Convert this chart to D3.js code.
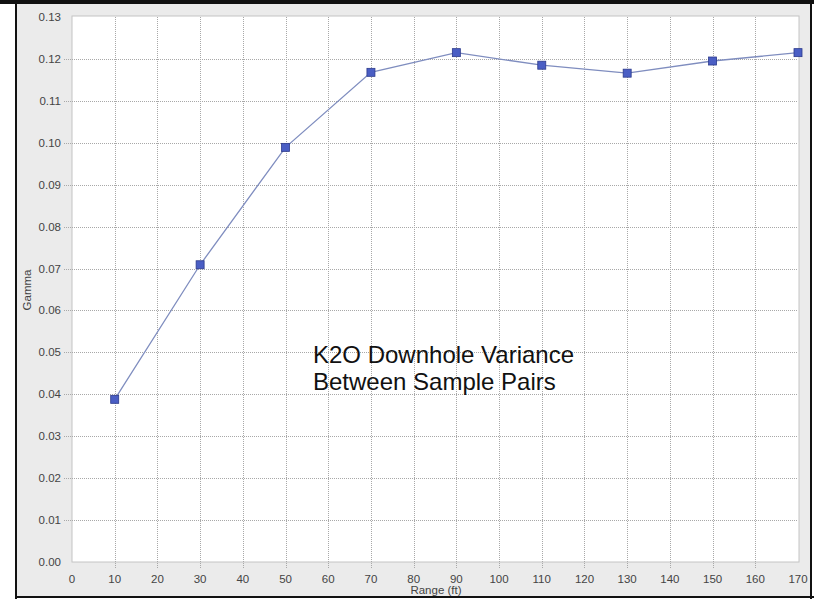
<!DOCTYPE html>
<html><head><meta charset="utf-8">
<script src="https://cdn.jsdelivr.net/npm/d3@7"></script>
<style>html,body{margin:0;padding:0;background:#fff;}svg{display:block;}</style>
</head><body>
<svg id="c" width="814" height="600"></svg>
<script>
const ranges = [10, 30, 50, 70, 90, 110, 130, 150, 170];
const gamma = [0.0388, 0.0709, 0.0989, 0.1168, 0.1215, 0.1185, 0.1166, 0.1195, 0.1215];
const xTicks = d3.range(0, 171, 10);
const yTicks = d3.range(0, 14).map(i => i / 100);
const xTitle = "Range (ft)";
const yTitle = "Gamma";
const note = ["K2O Downhole Variance", "Between Sample Pairs"];

const svg = d3.select("#c");
const L = 72, R = 798, T = 17, B = 562;
const x = d3.scaleLinear().domain([0, 170]).range([L, R]);
const y = d3.scaleLinear().domain([0, 0.13]).range([B, T]);

// frame
svg.append("rect").attr("x", 16).attr("y", 3).attr("width", 795).attr("height", 594).attr("fill", "#ebebeb");
svg.append("rect").attr("x", 0).attr("y", 0).attr("width", 814).attr("height", 4).attr("fill", "#111");
svg.append("rect").attr("x", 15).attr("y", 0).attr("width", 2).attr("height", 599).attr("fill", "#111");
svg.append("rect").attr("x", 15).attr("y", 596).attr("width", 799).attr("height", 2).attr("fill", "#111");
svg.append("rect").attr("x", 810).attr("y", 0).attr("width", 2).attr("height", 599).attr("fill", "#111");

// plot area
svg.append("rect").attr("x", L).attr("y", T - 1).attr("width", R - L + 1).attr("height", B - T + 1)
  .attr("fill", "#fff").attr("stroke", "#c4c4c4").attr("stroke-width", 1);

const font = "'Liberation Sans', Arial, sans-serif";
// grid
const g = svg.append("g");
g.selectAll(".gx").data(xTicks.filter(d => d > 0 && d < 170)).enter().append("line")
  .attr("x1", d => Math.round(x(d)) + 0.5).attr("x2", d => Math.round(x(d)) + 0.5)
  .attr("y1", T).attr("y2", B + 6)
  .attr("stroke", "#a8a8a8").attr("stroke-dasharray", "1,1");
g.selectAll(".gy").data(yTicks.filter(d => d > 0 && d < 0.13)).enter().append("line")
  .attr("y1", d => Math.round(y(d)) + 0.5).attr("y2", d => Math.round(y(d)) + 0.5)
  .attr("x1", L - 8).attr("x2", R)
  .attr("stroke", "#a8a8a8").attr("stroke-dasharray", "1,1");

// tick labels
svg.selectAll(".xl").data(xTicks).enter().append("text")
  .attr("x", d => x(d)).attr("y", 583).attr("text-anchor", "middle")
  .attr("font-family", font).attr("font-size", 11.5).attr("fill", "#444")
  .text(d => d);
svg.selectAll(".yl").data(yTicks).enter().append("text")
  .attr("x", 61).attr("y", d => y(d) + 4).attr("text-anchor", "end")
  .attr("font-family", font).attr("font-size", 11.5).attr("fill", "#444")
  .text(d => d3.format(".2f")(d));

svg.append("text").attr("x", 436).attr("y", 594).attr("text-anchor", "middle")
  .attr("font-family", font).attr("font-size", 11.5).attr("fill", "#444").text(xTitle);
svg.append("text").attr("transform", "translate(31,290) rotate(-90)").attr("text-anchor", "middle")
  .attr("font-family", font).attr("font-size", 11.5).attr("fill", "#444").text(yTitle);

// line
const line = d3.line().x((d, i) => x(ranges[i])).y(d => y(d));
svg.append("path").datum(gamma).attr("d", line).attr("fill", "none")
  .attr("stroke", "#7f8dbf").attr("stroke-width", 1.3);
svg.selectAll(".m").data(gamma).enter().append("rect")
  .attr("x", (d, i) => x(ranges[i]) - 4).attr("y", d => y(d) - 4)
  .attr("width", 8).attr("height", 8)
  .attr("fill", "#4a5ec4").attr("stroke", "#2c3a8c").attr("stroke-width", 0.8);

// annotation
svg.selectAll(".n").data(note).enter().append("text")
  .attr("x", 313).attr("y", (d, i) => 363 + i * 27)
  .attr("font-family", font).attr("font-size", 24).attr("fill", "#111")
  .text(d => d);
</script>
</body></html>
